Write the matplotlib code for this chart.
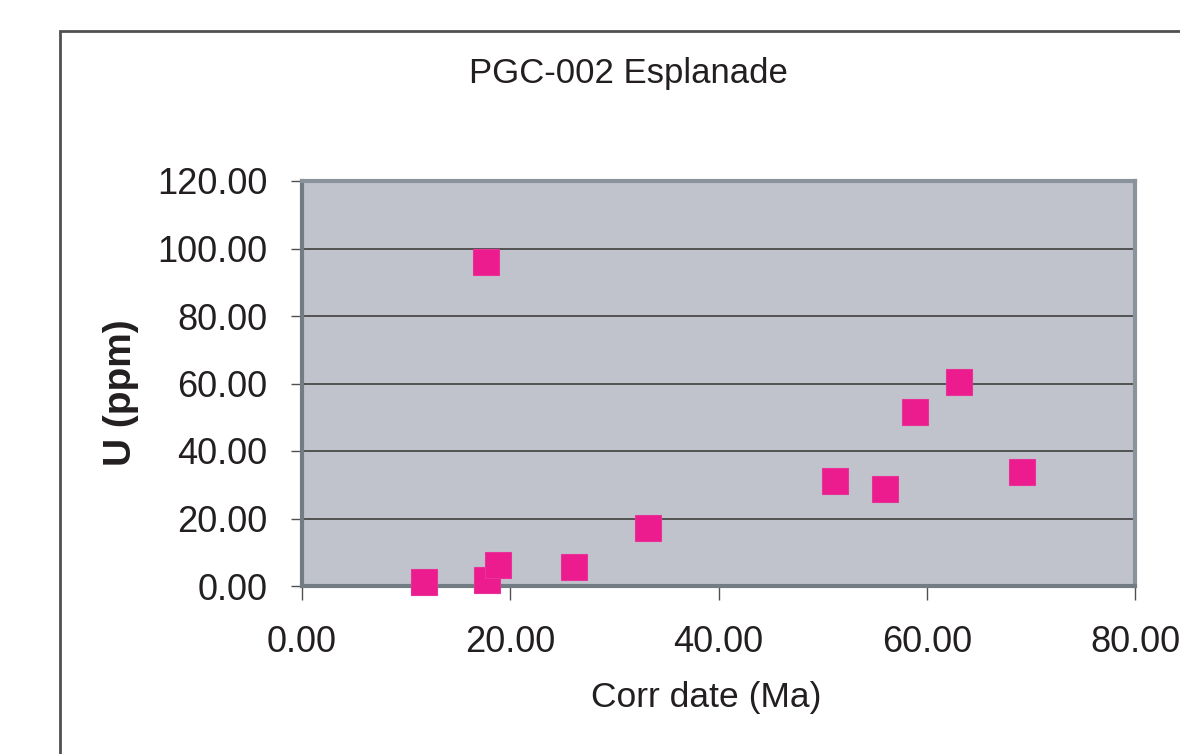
import matplotlib.pyplot as plt
from matplotlib.patches import Rectangle
from matplotlib.ticker import FormatStrFormatter

plt.rcParams['font.family'] = ['Liberation Sans', 'DejaVu Sans']

# Data
corr_date = [11.7, 17.7, 17.8, 18.8, 26.1, 33.2, 51.2, 56.0, 58.9, 63.05, 69.1]
u_ppm = [1.1, 96.0, 1.8, 6.1, 5.6, 17.2, 31.2, 28.6, 51.7, 60.3, 33.8]

x_ticks = [0, 20, 40, 60, 80]
y_ticks = [0, 20, 40, 60, 80, 100, 120]

fig = plt.figure(figsize=(11.8, 7.54), dpi=100)
fig.patch.set_facecolor('white')

# Outer chart frame (runs off the right and bottom of the image)
frame = Rectangle((60 / 1180, -0.1), 1.2, 1 - 31 / 754 + 0.1, transform=fig.transFigure,
                  fill=False, edgecolor='#505050', linewidth=2, clip_on=False)
fig.patches.append(frame)

ax = fig.add_axes([302 / 1180, 1 - 586 / 754, (1135 - 302) / 1180, (586 - 181) / 754])
ax.set_facecolor('#c0c3cb')

ax.plot(corr_date, u_ppm, 's', color='#ec1c8e', markersize=18.7,
        markeredgecolor='#e8329a', markeredgewidth=0.8, zorder=3, clip_on=False)

ax.set_xlim(0, 80)
ax.set_ylim(0, 120)
ax.set_xticks(x_ticks)
ax.set_yticks(y_ticks)
ax.xaxis.set_major_formatter(FormatStrFormatter('%.2f'))
ax.yaxis.set_major_formatter(FormatStrFormatter('%.2f'))

ax.yaxis.grid(True, color='#4a4a4a', linewidth=1.3)
ax.set_axisbelow(True)

ax.spines['left'].set_color('#737b83')
ax.spines['bottom'].set_color('#737b83')
ax.spines['top'].set_color('#8a939b')
ax.spines['right'].set_color('#8a939b')
for s in ax.spines.values():
    s.set_linewidth(3)

ax.tick_params(axis='y', direction='out', length=8, width=1, color='#505050',
               labelsize=26, pad=17, labelcolor='#231f20')
ax.tick_params(axis='x', direction='out', length=10, width=1, color='#505050',
               labelsize=26, pad=18, labelcolor='#231f20')

fig.text(628 / 1180, 1 - 73 / 754, 'PGC-002 Esplanade', ha='center', va='center',
         fontsize=25, color='#231f20')
fig.text(706 / 1180, 1 - 698 / 754, 'Corr date (Ma)', ha='center', va='center',
         fontsize=25.5, color='#231f20')
fig.text(121 / 1180, 1 - 393 / 754, 'U (ppm)', ha='center', va='center', rotation=90,
         fontsize=28, fontweight='bold', color='#231f20')

fig.savefig('out.png', dpi=100, facecolor='white')
